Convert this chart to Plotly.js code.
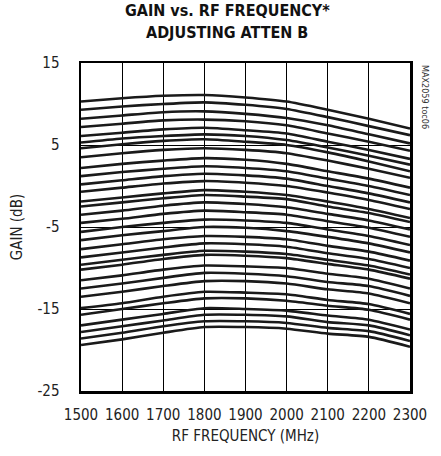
<!DOCTYPE html>
<html>
<head>
<meta charset="utf-8">
<script src="https://cdn.plot.ly/plotly-3.0.1.min.js"></script>
<style>
html,body{margin:0;padding:0;background:#fff;}
#chart{width:441px;height:456px;}
</style>
</head>
<body>
<div id="chart"></div>
<script>
// RF frequency (MHz)
const freqMHz = [1500, 1600, 1700, 1800, 1900, 2000, 2100, 2200, 2300];
const xTickLabels = ['1500','1600','1700','1800','1900','2000','2100','2200','2300'];
const yTickValues = [-25, -15, -5, 5, 15];
const titleLines = ['GAIN vs. RF FREQUENCY*', 'ADJUSTING ATTEN B'];

// Gain (dB), one curve per ATTEN B setting (top to bottom)
const gain01 = [10.3, 10.7, 11.0, 11.1, 10.8, 10.3, 9.3, 8.2, 7.0];
const gain02 = [9.3, 9.7, 10.0, 10.2, 9.9, 9.4, 8.4, 7.3, 6.2];
const gain03 = [8.2, 8.6, 9.0, 9.1, 8.8, 8.3, 7.4, 6.3, 5.2];
const gain04 = [7.2, 7.6, 8.0, 8.1, 7.9, 7.4, 6.4, 5.4, 4.3];
const gain05 = [6.1, 6.5, 6.9, 7.1, 6.8, 6.4, 5.4, 4.4, 3.3];
const gain06 = [5.3, 5.8, 6.1, 6.3, 6.1, 5.6, 4.7, 3.7, 2.6];
const gain07 = [4.6, 5.1, 5.5, 5.7, 5.4, 5.0, 4.1, 3.0, 1.8];
const gain08 = [3.5, 4.0, 4.4, 4.6, 4.4, 4.0, 3.1, 2.1, 1.0];
const gain09 = [2.2, 2.7, 3.1, 3.4, 3.2, 2.7, 1.8, 0.9, -0.2];
const gain10 = [1.2, 1.7, 2.1, 2.4, 2.2, 1.8, 0.9, 0.0, -1.1];
const gain11 = [0.2, 0.7, 1.2, 1.5, 1.3, 0.9, 0.0, -0.9, -2.0];
const gain12 = [-0.7, -0.2, 0.3, 0.6, 0.4, 0.0, -0.8, -1.7, -2.8];
const gain13 = [-1.9, -1.4, -0.9, -0.5, -0.7, -1.1, -1.9, -2.8, -3.9];
const gain14 = [-2.5, -2.0, -1.5, -1.1, -1.3, -1.6, -2.5, -3.3, -4.4];
const gain15 = [-3.5, -3.0, -2.4, -2.0, -2.2, -2.6, -3.4, -4.2, -5.3];
const gain16 = [-4.5, -4.0, -3.4, -3.0, -3.2, -3.5, -4.3, -5.1, -6.2];
const gain17 = [-5.6, -5.0, -4.5, -4.1, -4.2, -4.5, -5.3, -6.1, -7.2];
const gain18 = [-6.6, -6.0, -5.5, -5.0, -5.1, -5.5, -6.2, -7.0, -8.1];
const gain19 = [-7.7, -7.1, -6.5, -6.1, -6.2, -6.5, -7.3, -8.0, -9.1];
const gain20 = [-8.7, -8.1, -7.5, -7.0, -7.1, -7.4, -8.2, -8.9, -10.0];
const gain21 = [-9.6, -9.0, -8.4, -7.9, -8.0, -8.3, -9.0, -9.7, -10.8];
const gain22 = [-10.2, -9.6, -8.9, -8.4, -8.5, -8.8, -9.5, -10.2, -11.3];
const gain23 = [-11.5, -10.9, -10.2, -9.7, -9.8, -10.0, -10.7, -11.3, -12.5];
const gain24 = [-12.5, -11.9, -11.2, -10.6, -10.7, -11.0, -11.7, -12.2, -13.4];
const gain25 = [-13.5, -12.9, -12.2, -11.6, -11.6, -11.9, -12.6, -13.1, -14.3];
const gain26 = [-14.9, -14.3, -13.5, -12.9, -13.0, -13.2, -13.9, -14.4, -15.6];
const gain27 = [-15.7, -15.0, -14.3, -13.7, -13.7, -14.0, -14.6, -15.1, -16.3];
const gain28 = [-17.0, -16.3, -15.6, -14.9, -15.0, -15.2, -15.8, -16.3, -17.5];
const gain29 = [-17.8, -17.1, -16.4, -15.7, -15.7, -15.9, -16.6, -17.0, -18.2];
const gain30 = [-18.6, -17.9, -17.1, -16.5, -16.5, -16.7, -17.3, -17.7, -18.9];
const gain31 = [-19.4, -18.7, -17.9, -17.2, -17.2, -17.4, -18.0, -18.4, -19.6];

const curves = [gain01, gain02, gain03, gain04, gain05, gain06, gain07, gain08,
  gain09, gain10, gain11, gain12, gain13, gain14, gain15, gain16, gain17, gain18,
  gain19, gain20, gain21, gain22, gain23, gain24, gain25, gain26, gain27, gain28,
  gain29, gain30, gain31];

const narrow = '"Liberation Sans Narrow", "Arial Narrow", "DejaVu Sans Condensed", sans-serif';

const traces = curves.map(g => ({
  x: freqMHz,
  y: g,
  type: 'scatter',
  mode: 'lines',
  line: {color: '#1a1a1a', width: 2.6, shape: 'spline', smoothing: 0.6},
  hoverinfo: 'skip',
  showlegend: false
}));

const layout = {
  width: 441,
  height: 456,
  paper_bgcolor: '#ffffff',
  plot_bgcolor: '#ffffff',
  margin: {l: 81, r: 31, t: 63, b: 65},
  showlegend: false,
  xaxis: {
    range: [1500, 2300],
    tickvals: freqMHz,
    ticktext: xTickLabels,
    ticks: '',
    showgrid: true,
    gridcolor: '#000',
    gridwidth: 1,
    zeroline: false,
    showline: true,
    linecolor: '#000',
    linewidth: 2.5,
    mirror: true,
    ticklabelstandoff: 8,
    tickfont: {family: narrow, size: 15, color: '#222'},
    title: {text: 'RF FREQUENCY (MHz)', font: {family: narrow, size: 15, color: '#222'}, standoff: 8}
  },
  yaxis: {
    range: [-25, 15],
    tickvals: yTickValues,
    ticktext: yTickValues.map(String),
    ticks: '',
    showgrid: true,
    gridcolor: '#000',
    gridwidth: 1,
    zeroline: false,
    showline: true,
    linecolor: '#000',
    linewidth: 2.5,
    mirror: true,
    ticklabelstandoff: 16,
    tickfont: {family: narrow, size: 15, color: '#222'},
    title: {text: 'GAIN (dB)', font: {family: narrow, size: 15, color: '#222'}, standoff: 11}
  },
  annotations: [
    {
      text: '<b>' + titleLines[0] + '</b>',
      xref: 'paper', yref: 'paper', x: 0.445, y: 1.16,
      xanchor: 'center', yanchor: 'middle', showarrow: false,
      font: {family: narrow, size: 16, color: '#111'}
    },
    {
      text: '<b>' + titleLines[1] + '</b>',
      xref: 'paper', yref: 'paper', x: 0.445, y: 1.092,
      xanchor: 'center', yanchor: 'middle', showarrow: false,
      font: {family: narrow, size: 16, color: '#111'}
    },
    {
      text: 'MAX2059 toc06',
      xref: 'paper', yref: 'paper',
      x: 1.0, y: 1.0,
      xanchor: 'left', yanchor: 'top',
      xshift: 8,
      textangle: 90,
      showarrow: false,
      font: {family: narrow, size: 9, color: '#333'}
    }
  ]
};

Plotly.newPlot('chart', traces, layout, {staticPlot: true, displayModeBar: false});
</script>
</body>
</html>
